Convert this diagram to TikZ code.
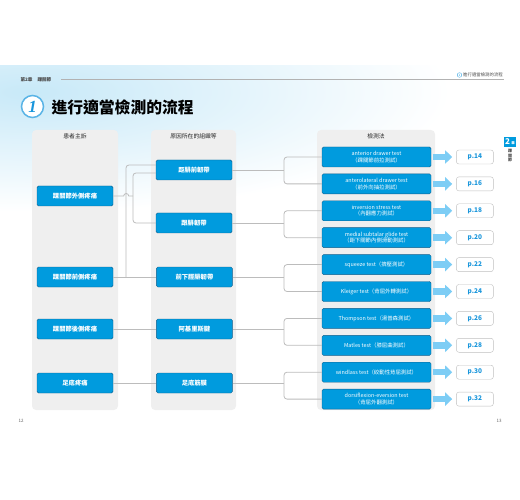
\documentclass[tikz,border=0pt]{standalone}
\usepackage{fontspec}
\setmainfont{Noto Sans CJK TC}
\newfontfamily\numfont{Liberation Serif}
\usepackage{xcolor}
\usepackage{tikz}
\usetikzlibrary{arrows.meta,positioning,calc}
\definecolor{boxblue}{RGB}{0,155,222}
\definecolor{boxedge}{RGB}{20,95,140}
\definecolor{arrowblue}{RGB}{125,205,245}
\definecolor{pageblue}{RGB}{25,150,220}
\definecolor{linegray}{RGB}{188,188,188}
\definecolor{colgray}{RGB}{239,239,239}
\definecolor{skytint}{RGB}{200,233,248}
\tikzset{
  colbg/.style={fill=colgray, rounded corners=4pt},
  colhead/.style={font=\fontsize{5.8}{6}\selectfont, text=black!85},
  sym/.style={draw=boxedge, line width=0.4pt, fill=boxblue, rounded corners=1.5pt, text=white, font=\bfseries\fontsize{6.3}{7}\selectfont, minimum width=76pt, minimum height=20pt, inner sep=1pt},
  testbox/.style={sym, minimum width=109pt, align=center, font=\fontsize{5.4}{6.6}\selectfont},
  pagebox/.style={draw=black!25, fill=white, rounded corners=2.5pt, minimum width=37pt, minimum height=14pt, inner sep=1pt, text=pageblue, font=\bfseries\fontsize{6.5}{7}\selectfont},
  link/.style={draw=linegray, line width=0.8pt, rounded corners=3pt},
  goarrow/.style={draw=arrowblue, line width=6.5pt, -{Triangle[width=13pt,length=7pt]}, shorten <=1.5pt, shorten >=4pt},
  small/.style={font=\fontsize{4.5}{5}\selectfont, text=black!70}
}
\begin{document}
\begin{tikzpicture}[x=1pt, y=-1pt, node distance=6.5pt and 25pt]
  \useasboundingbox (0,0) rectangle (520,500);
  \begin{scope}
    \clip (0,66) rectangle (520,220);
    \shade[inner color=skytint, outer color=white] (30,92) ellipse (420 and 120);
  \end{scope}

  \node[small, font=\bfseries\fontsize{4.6}{5}\selectfont, anchor=west] (chap) at (17,79.5) {第2章\hspace{5pt}踝關節};
  \draw[black!30, line width=1pt] (61,80) -- (504,80);
  \node[circle, draw=pageblue, line width=0.3pt, inner sep=0pt, minimum size=4.6pt, text=pageblue, font=\fontsize{3}{3}\selectfont] (mini) at (459.5,75) {1};
  \node[small, font=\fontsize{4.4}{5}\selectfont, anchor=west, inner sep=1pt] (runhead) at (462,75) {進行適當檢測的流程};

  \node[circle, draw={rgb,255:red,90;green,180;blue,230}, line width=1.5pt, fill=white, minimum size=22pt, inner sep=0pt, text=pageblue, font=\numfont\bfseries\itshape\fontsize{17}{17}\selectfont] (num) at (32.5,106.5) {1};
  \node[anchor=west, font=\bfseries\fontsize{15.8}{16}\selectfont] (title) at (48,107) {進行適當檢測的流程};

  \path[colbg] (32,130) rectangle (118,410);
  \path[colbg] (151,130) rectangle (236,410);
  \path[colbg] (317,130) rectangle (435,410);
  \node[colhead] (h1) at (75,136) {患者主訴};
  \node[colhead] (h2) at (193.5,136) {原因所在的組織等};
  \node[colhead] (h3) at (376,136) {檢測法};

  \node[sym] (c1) at (75,196) {踝關節外側疼痛};
  \node[sym] (c2) at (75,277) {踝關節前側疼痛};
  \node[sym] (c3) at (75,329) {踝關節後側疼痛};
  \node[sym] (c4) at (75,383) {足底疼痛};

  \node[sym] (s1) at (194,170) {距腓前韌帶};
  \node[sym] (s2) at (194,223) {跟腓韌帶};
  \node[sym, right=43pt of c2] (s3) {前下脛腓韌帶};
  \node[sym, right=43pt of c3] (s4) {阿基里斯腱};
  \node[sym, right=43pt of c4] (s5) {足底筋膜};

  \node[testbox] (t1) at (376.5,157) {anterior drawer test\\（踝關節前拉測試）};
  \node[testbox, below=of t1] (t2) {anterolateral drawer test\\（前外向抽拉測試）};
  \node[testbox, below=of t2] (t3) {inversion stress test\\（內翻應力測試）};
  \node[testbox, below=of t3] (t4) {medial subtalar glide test\\（距下關節內側滑動測試）};
  \node[testbox, below=of t4] (t5) {squeeze test（擠壓測試）};
  \node[testbox, below=of t5] (t6) {Kleiger test（背屈外轉測試）};
  \node[testbox, below=of t6] (t7) {Thompson test（湯普森測試）};
  \node[testbox, below=of t7] (t8) {Matles test（膝屈曲測試）};
  \node[testbox, below=of t8] (t9) {windlass test（絞動性背屈測試）};
  \node[testbox, below=of t9] (t10) {dorsiflexion-eversion test\\（背屈外翻測試）};

  \foreach \i/\pg in {1/14,2/16,3/18,4/20,5/22,6/24,7/26,8/28,9/30,10/32} {
    \node[pagebox, right=of t\i] (p\i) {p.\pg};
    \draw[goarrow] (t\i) -- (p\i);
  }

  \coordinate (fork) at (284,0);
  \coordinate (busA) at (133,0);
  \coordinate (busB) at (126,0);
  \foreach \s/\a/\b in {s1/t1/t2, s2/t3/t4, s3/t5/t6, s4/t7/t8, s5/t9/t10} {
    \draw[link] (\a.west) -| (fork |- \s.east) |- (\b.west);
    \draw[link] (\s.east) -- (fork |- \s.east);
  }

  \draw[link] ($(s1.west)+(0,3)$) -| (busA |- s2.west) -- (s2.west);
  \draw[link, sharp corners] (c1.east) -- ++(10.5,0) arc[start angle=180, end angle=0, radius=2.5pt] -- (busA |- c1.east);
  \draw[link] (c2.east) -- (s3.west);
  \draw[link] (busB |- c2.east) |- ($(s1.west)+(0,-5)$);
  \draw[link] (c3) -- (s4);
  \draw[link] (c4) -- (s5);

  \node[fill=boxblue, inner sep=0.5pt, minimum width=12pt, minimum height=10pt, text=white, font=\bfseries\fontsize{8}{8}\selectfont] (tab) at (510,142) {2\,{\fontsize{3.5}{4}\selectfont 章}};
  \node[below=2pt of tab, align=center, inner sep=0pt, small, font=\bfseries\fontsize{4}{4.5}\selectfont] (tabtxt) {踝\\關\\節};

  \node[small, text=black!60] (pgl) at (21,421) {12};
  \node[small, text=black!60] (pgr) at (499,421) {13};
\end{tikzpicture}
\end{document}
